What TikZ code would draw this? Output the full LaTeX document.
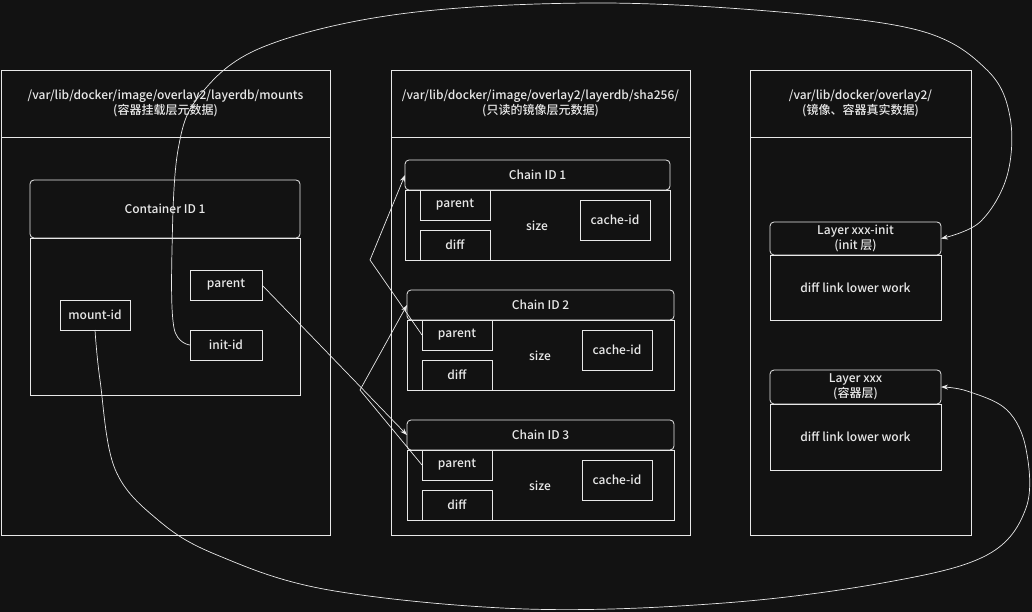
\documentclass[tikz,border=0pt]{standalone}
\usepackage{fontspec}
\setmainfont{Noto Sans CJK SC}[UprightFont={* Medium}]
\usepackage{tikz}
\usetikzlibrary{arrows.meta, positioning}

\definecolor{bgdark}{HTML}{121212}
\definecolor{ink}{HTML}{E8E8E8}

\tikzset{
  box/.style = {draw=ink, text=ink, line width=.8pt, anchor=north west,
    inner sep=0pt, outer sep=0pt, align=center, font=\fontsize{12}{15}\selectfont},
  hbox/.style = {box, rounded corners=4pt},
  lbl/.style = {text=ink, font=\fontsize{12}{15}\selectfont},
  link/.style = {draw=ink, line width=.7pt, -{Stealth[length=7pt,width=5pt]}},
}

\begin{document}
\begin{tikzpicture}[x=1pt, y=-1pt]
  \fill[bgdark] (0,0) rectangle (1032,612);
  \useasboundingbox (0,0) rectangle (1032,612);

  % mounts
  \node[box, minimum width=329pt, minimum height=67pt] (mhead) at (1,70)
    {/var/lib/docker/image/overlay2/layerdb/mounts\\(容器挂载层元数据)};
  \node[box, minimum width=329pt, minimum height=398pt, below=0pt of mhead] (mbody) {};
  \node[hbox, minimum width=270pt, minimum height=58pt] (cthead) at (30,180) {Container ID 1};
  \node[box, minimum width=270pt, minimum height=157pt, below=0pt of cthead] (ctbody) {};
  \node[box, minimum width=70pt, minimum height=30pt] (mountid) at (60,300) {mount-id};
  \node[box, minimum width=72pt, minimum height=30pt] (lparent) at (190,270) {parent};
  \node[box, minimum width=72pt, minimum height=30pt] (initid) at (190,330) {init-id};

  % sha256
  \node[box, minimum width=299pt, minimum height=67pt] (shead) at (391,70)
    {/var/lib/docker/image/overlay2/layerdb/sha256/\\(只读的镜像层元数据)};
  \node[box, minimum width=299pt, minimum height=398pt, below=0pt of shead] (sbody) {};

  \node[hbox, minimum width=265pt, minimum height=30pt] (cahead) at (405,160) {Chain ID 1};
  \node[box, minimum width=265pt, minimum height=70pt, below=0pt of cahead] (cabody) {};
  \node[box, minimum width=70pt, minimum height=30pt] (caparent) at (420,190) {parent};
  \node[box, minimum width=70pt, minimum height=30pt] (cadiff) at (420,230) {diff};
  \node[lbl] (casize) at (537,226) {size};
  \node[box, minimum width=70pt, minimum height=40pt] (cacache) at (580,200) {cache-id};

  \node[hbox, minimum width=267pt, minimum height=30pt] (cbhead) at (407,290) {Chain ID 2};
  \node[box, minimum width=267pt, minimum height=70pt, below=0pt of cbhead] (cbbody) {};
  \node[box, minimum width=70pt, minimum height=30pt] (cbparent) at (422,320) {parent};
  \node[box, minimum width=70pt, minimum height=30pt] (cbdiff) at (422,360) {diff};
  \node[lbl] (cbsize) at (540,356) {size};
  \node[box, minimum width=70pt, minimum height=40pt] (cbcache) at (582,330) {cache-id};

  \node[hbox, minimum width=267pt, minimum height=30pt] (cchead) at (407,420) {Chain ID 3};
  \node[box, minimum width=267pt, minimum height=70pt, below=0pt of cchead] (ccbody) {};
  \node[box, minimum width=70pt, minimum height=30pt] (ccparent) at (422,450) {parent};
  \node[box, minimum width=70pt, minimum height=30pt] (ccdiff) at (422,490) {diff};
  \node[lbl] (ccsize) at (540,486) {size};
  \node[box, minimum width=70pt, minimum height=40pt] (cccache) at (582,460) {cache-id};

  % overlay2
  \node[box, minimum width=221pt, minimum height=67pt] (ohead) at (750,70)
    {/var/lib/docker/overlay2/\\(镜像、容器真实数据)};
  \node[box, minimum width=221pt, minimum height=398pt, below=0pt of ohead] (obody) {};
  \node[hbox, minimum width=171pt, minimum height=33pt] (initlay) at (770,222)
    {Layer xxx-init\\(init 层)};
  \node[box, minimum width=171pt, minimum height=65pt, below=0pt of initlay] (initdata)
    {diff link lower work};
  \node[hbox, minimum width=171pt, minimum height=34pt] (ctlay) at (770,370)
    {Layer xxx\\(容器层)};
  \node[box, minimum width=171pt, minimum height=66pt, below=0pt of ctlay] (ctdata)
    {diff link lower work};

  % links
  \coordinate (kinkb) at (370,260);
  \coordinate (kinkc) at (360,390);
  \draw[link] (lparent.east) -- (cchead.west);
  \draw[link] (cbparent.west) -- (kinkb) -- (cahead.west);
  \draw[link] (ccparent.west) -- (kinkc) -- (cbhead.west);
  \draw[link] plot[smooth, tension=.6] coordinates {(initid.west) (174,328) (172,250)
    (178,150) (200,95) (263,47) (400,14) (592,3) (780,12) (921,31) (987,70) (1010,117)
    (1007,176) (980,222) (initlay.east)};
  \draw[link] plot[smooth, tension=.6] coordinates {(mountid.south) (100,380) (115,469)
    (158,520) (217,555) (329,590) (526,609) (724,603) (888,582) (987,555) (1026,508)
    (1026,449) (1007,410) (967,391) (ctlay.east)};
\end{tikzpicture}
\end{document}
